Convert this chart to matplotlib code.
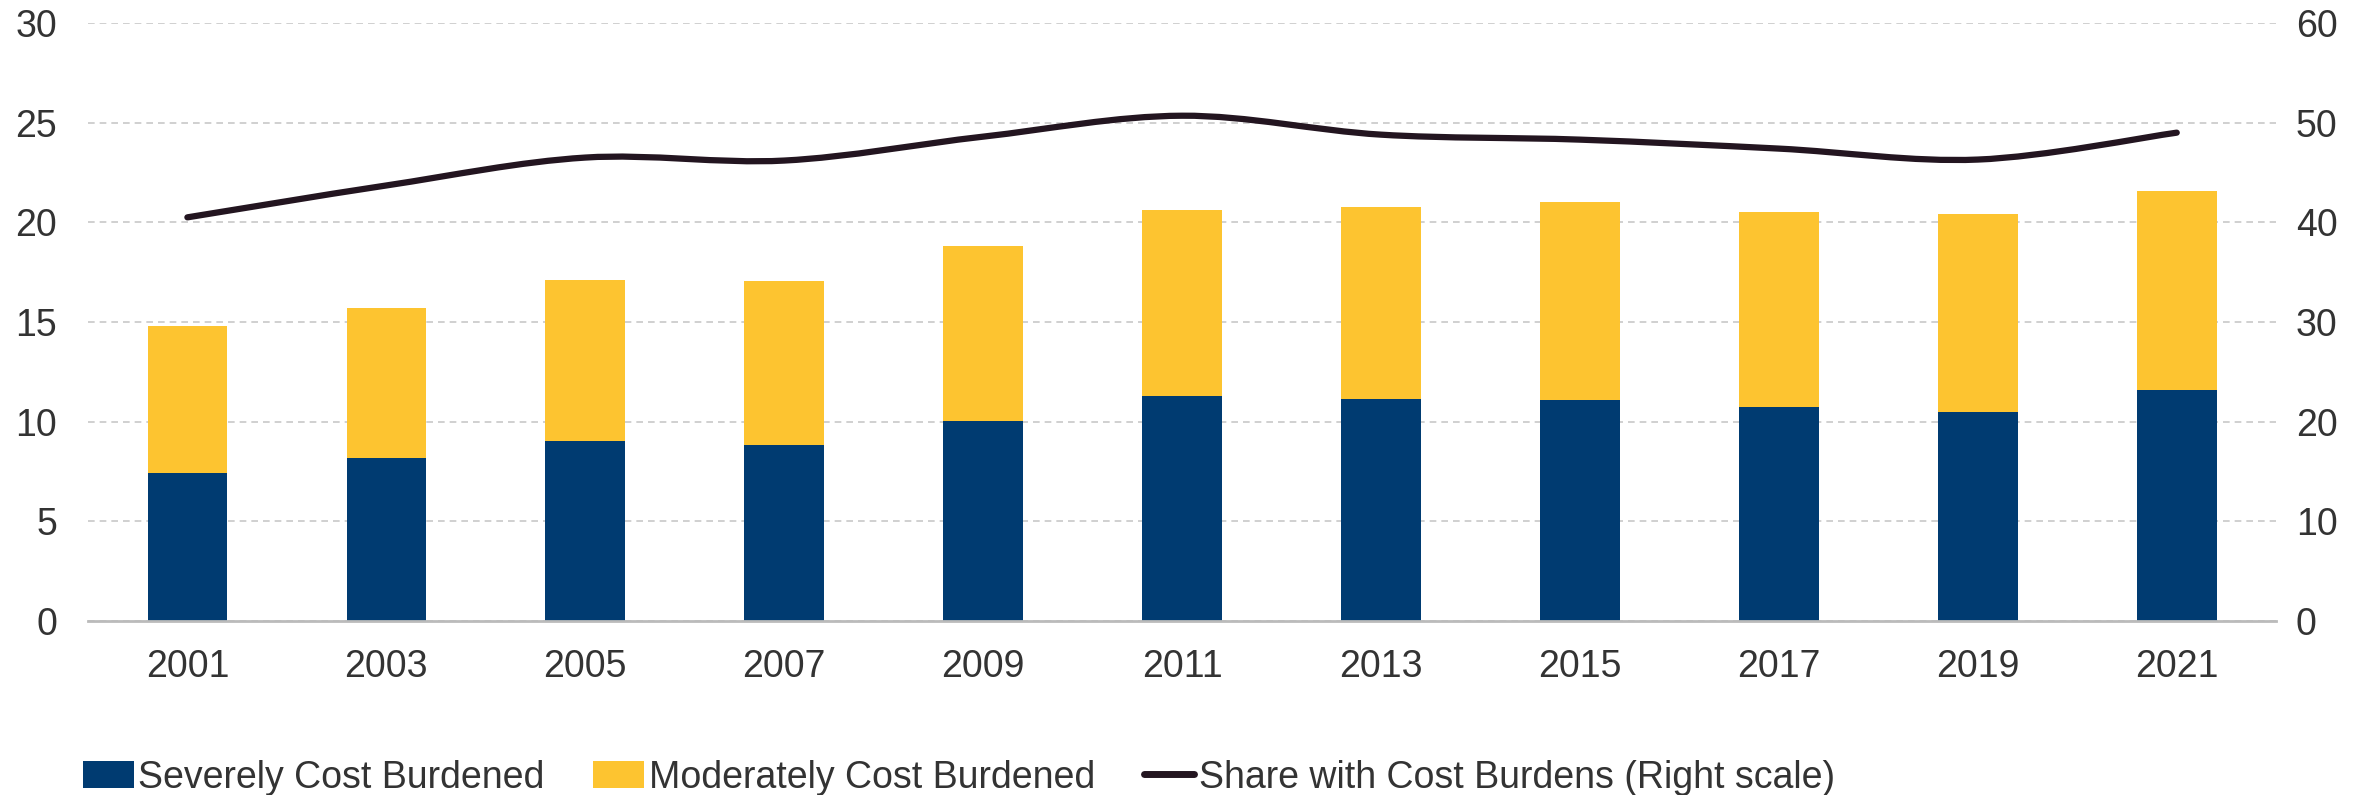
import matplotlib

matplotlib.use("Agg")
import matplotlib.pyplot as plt
from matplotlib.path import Path
from matplotlib.patches import PathPatch
from matplotlib.lines import Line2D
from matplotlib.patches import Patch

years = ["2001", "2003", "2005", "2007", "2009", "2011", "2013", "2015", "2017", "2019", "2021"]
severe = [7.4, 8.15, 9.05, 8.85, 10.05, 11.3, 11.15, 11.1, 10.75, 10.5, 11.6]
total = [14.78, 15.7, 17.12, 17.05, 18.8, 20.6, 20.75, 21.0, 20.5, 20.4, 21.57]
moderate = [t - s for t, s in zip(total, severe)]
share = [40.5, 43.7, 46.5, 46.2, 48.6, 50.7, 48.8, 48.3, 47.4, 46.3, 49.0]

BLUE = "#003B71"
YELLOW = "#FDC430"
LINE = "#231520"
TEXT = "#333333"

plt.rcParams["font.family"] = ["Liberation Sans", "DejaVu Sans"]
plt.rcParams["font.size"] = 27

fig, ax = plt.subplots(figsize=(23.76, 7.95), dpi=100)
fig.subplots_adjust(left=0.037, right=0.958, top=0.971, bottom=0.219)

x = list(range(len(years)))
ax.bar(x, severe, width=0.4, color=BLUE, zorder=2)
ax.bar(x, moderate, width=0.4, bottom=severe, color=YELLOW, zorder=2)

ax.set_xlim(-0.5, len(years) - 0.5)
ax.set_ylim(0, 30)
ax.set_yticks(range(0, 31, 5))
ax.set_xticks(x)
ax.set_xticklabels(years)
ax.grid(axis="y", color="#c8c8c8", linestyle=(0, (4, 3)), linewidth=1.2, zorder=0)
for side in ("top", "left", "right"):
    ax.spines[side].set_visible(False)
ax.spines["bottom"].set_color("#bbbbbb")
ax.spines["bottom"].set_linewidth(2)
ax.tick_params(axis="y", length=0, pad=22, colors=TEXT)
ax.tick_params(axis="x", length=0, pad=20, colors=TEXT)

ax2 = ax.twinx()
ax2.set_ylim(0, 60)
ax2.set_yticks(range(0, 61, 10))
for side in ("top", "left", "right", "bottom"):
    ax2.spines[side].set_visible(False)
ax2.tick_params(axis="y", length=0, pad=14, colors=TEXT)

# smoothed line (Catmull-Rom style Bezier through the data points)
pts = list(zip(x, share))
verts = [pts[0]]
codes = [Path.MOVETO]
for i in range(len(pts) - 1):
    p0 = pts[i - 1] if i > 0 else pts[i]
    p1 = pts[i]
    p2 = pts[i + 1]
    p3 = pts[i + 2] if i + 2 < len(pts) else pts[i + 1]
    c1 = (p1[0] + (p2[0] - p0[0]) / 6, p1[1] + (p2[1] - p0[1]) / 6)
    c2 = (p2[0] - (p3[0] - p1[0]) / 6, p2[1] - (p3[1] - p1[1]) / 6)
    verts += [c1, c2, p2]
    codes += [Path.CURVE4] * 3
ax2.add_patch(PathPatch(Path(verts, codes), facecolor="none", edgecolor=LINE,
                        linewidth=4.5, capstyle="round", zorder=3))

handles = [
    Patch(facecolor=BLUE, edgecolor="none"),
    Patch(facecolor=YELLOW, edgecolor="none"),
    Line2D([0], [0], color=LINE, linewidth=5, solid_capstyle="round"),
]
labels = ["Severely Cost Burdened", "Moderately Cost Burdened",
          "Share with Cost Burdens (Right scale)"]
leg = fig.legend(handles, labels, loc="center left", bbox_to_anchor=(0.035, 0.022),
                 ncol=3, frameon=False, handlelength=1.35, handleheight=0.75,
                 handletextpad=0.12, columnspacing=1.3, borderpad=0, borderaxespad=0)
for t in leg.get_texts():
    t.set_color(TEXT)

fig.savefig("out.png", dpi=100)
